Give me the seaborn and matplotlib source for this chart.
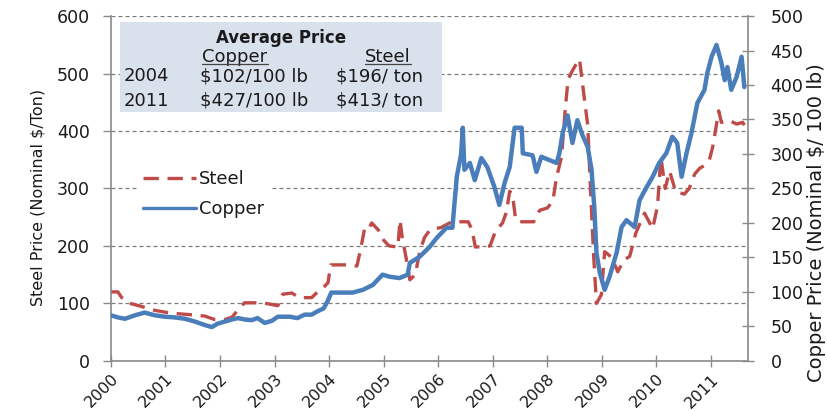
import matplotlib
matplotlib.use("Agg")
import matplotlib.pyplot as plt
import seaborn as sns
import pandas as pd
from matplotlib.patches import Rectangle
from matplotlib.lines import Line2D

# Copper spot price, nominal $ per 100 lb (right axis)
copper_year = [2000.00, 2000.13, 2000.26, 2000.44, 2000.62, 2000.81, 2000.99, 2001.17,
               2001.36, 2001.54, 2001.72, 2001.85, 2001.96, 2002.09, 2002.22, 2002.33,
               2002.45, 2002.58, 2002.69, 2002.82, 2002.95, 2003.06, 2003.28, 2003.42,
               2003.55, 2003.68, 2003.79, 2003.90, 2003.97, 2004.04, 2004.19, 2004.43,
               2004.62, 2004.80, 2004.98, 2005.11, 2005.29, 2005.44, 2005.48, 2005.66,
               2005.84, 2005.97, 2006.15, 2006.26, 2006.34, 2006.42, 2006.45, 2006.48,
               2006.58, 2006.67, 2006.79, 2006.90, 2007.03, 2007.12, 2007.22, 2007.31,
               2007.40, 2007.53, 2007.55, 2007.73, 2007.80, 2007.89, 2008.04, 2008.17,
               2008.22, 2008.28, 2008.37, 2008.46, 2008.55, 2008.64, 2008.74, 2008.81,
               2008.86, 2008.90, 2008.96, 2009.05, 2009.14, 2009.27, 2009.36, 2009.45,
               2009.60, 2009.69, 2009.82, 2009.93, 2010.05, 2010.18, 2010.29, 2010.38,
               2010.46, 2010.55, 2010.64, 2010.75, 2010.88, 2010.93, 2011.01, 2011.10,
               2011.19, 2011.25, 2011.30, 2011.37, 2011.47, 2011.56, 2011.61]
copper_price = [66, 63, 61, 66, 70, 66, 64, 63,
                61, 57, 52, 49, 54, 57, 60, 62,
                60, 59, 62, 55, 58, 64, 64, 62,
                67, 67, 72, 76, 86, 99, 99, 99,
                103, 110, 125, 122, 120, 125, 142, 151,
                165, 178, 193, 193, 267, 300, 338, 277,
                287, 262, 294, 281, 252, 226, 259, 281,
                338, 338, 301, 298, 274, 296, 291, 287,
                301, 330, 356, 316, 349, 328, 310, 277,
                223, 157, 128, 103, 122, 157, 194, 204,
                194, 233, 252, 267, 287, 301, 325, 316,
                267, 301, 330, 374, 393, 417, 441, 458,
                432, 407, 426, 393, 412, 441, 397]

# Steel price, nominal $ per ton (left axis)
steel_year = [2000.00, 2000.13, 2000.20, 2000.35, 2000.55, 2000.80, 2001.10, 2001.50,
              2001.72, 2001.90, 2002.09, 2002.22, 2002.36, 2002.45, 2002.77, 2002.90,
              2003.06, 2003.15, 2003.32, 2003.45, 2003.68, 2003.79, 2003.90, 2003.98,
              2004.03, 2004.29, 2004.51, 2004.58, 2004.65, 2004.72, 2004.78, 2004.90,
              2005.00, 2005.10, 2005.26, 2005.30, 2005.34, 2005.41, 2005.48, 2005.58,
              2005.66, 2005.75, 2005.85, 2006.05, 2006.25, 2006.55, 2006.62, 2006.68,
              2006.95, 2007.05, 2007.18, 2007.25, 2007.31, 2007.36, 2007.42, 2007.53,
              2007.75, 2007.86, 2008.00, 2008.10, 2008.17, 2008.26, 2008.33, 2008.38,
              2008.46, 2008.52, 2008.59, 2008.64, 2008.70, 2008.74, 2008.79, 2008.85,
              2008.90, 2008.99, 2009.05, 2009.18, 2009.29, 2009.40, 2009.51, 2009.62,
              2009.78, 2009.93, 2010.02, 2010.08, 2010.16, 2010.24, 2010.35, 2010.51,
              2010.60, 2010.70, 2010.79, 2010.88, 2010.97, 2011.03, 2011.08, 2011.14,
              2011.19, 2011.34, 2011.47, 2011.58, 2011.61]
steel_price = [120, 120, 110, 100, 95, 88, 83, 80,
               78, 72, 72, 76, 92, 101, 101, 99,
               96, 116, 118, 110, 110, 120, 128, 136,
               167, 167, 165, 195, 230, 228, 240, 228,
               210, 200, 198, 245, 215, 180, 141, 150,
               190, 215, 228, 232, 242, 242, 228, 198,
               200, 226, 240, 259, 295, 290, 245, 242,
               242, 262, 266, 278, 320, 355, 440, 490,
               505, 515, 525, 485, 440, 410, 300, 180,
               100, 115, 190, 180, 155, 175, 182, 222,
               257, 230, 270, 355, 300, 330, 295, 290,
               300, 325, 335, 340, 350, 372, 400, 435,
               415, 418, 412, 415, 410]

year_ticks = list(range(2000, 2012))
steel_ticks = [0, 100, 200, 300, 400, 500, 600]
copper_ticks = [0, 50, 100, 150, 200, 250, 300, 350, 400, 450, 500]

# Average-price inset table
avg_years = ["2004", "2011"]
avg_copper = ["$102/100 lb", "$427/100 lb"]
avg_steel = ["$196/ ton", "$413/ ton"]

sns.set_theme(style="white")
plt.rcParams["font.family"] = ["DejaVu Sans"]

STEEL_RED = "#be4b48"
COPPER_BLUE = "#4a7ebb"
AXIS_GRAY = "#8a8a8a"
TEXT = "#1a1a1a"
STEEL_DASH = (0, (4.6, 2.6))

fig = plt.figure(figsize=(8.27, 4.11), dpi=100)
ax = fig.add_axes([0.134, 0.122, 0.770, 0.839])
ax2 = ax.twinx()

steel_df = pd.DataFrame({"year": steel_year, "price": steel_price})
copper_df = pd.DataFrame({"year": copper_year, "price": copper_price})

sns.lineplot(data=steel_df, x="year", y="price", ax=ax, color=STEEL_RED,
             linewidth=2.4, linestyle=STEEL_DASH, estimator=None, sort=False)
sns.lineplot(data=copper_df, x="year", y="price", ax=ax2, color=COPPER_BLUE,
             linewidth=3.2, estimator=None, sort=False)

ax.set_xlim(2000, 2011.67)
ax.set_ylim(0, 600)
ax2.set_ylim(0, 500)
ax.set_xticks(year_ticks)
ax.set_xticklabels([str(y) for y in year_ticks], rotation=45, ha="right",
                   va="top", rotation_mode="anchor")
ax.set_yticks(steel_ticks)
ax2.set_yticks(copper_ticks)
ax.set_xlabel("")

# dashed horizontal grid tied to the steel scale
ax.set_axisbelow(True)
ax.yaxis.grid(True, linestyle=(0, (3.2, 2.4)), color="#7a7a7a", linewidth=0.9)
ax.xaxis.grid(False)

for a in (ax, ax2):
    for s in a.spines.values():
        s.set_visible(False)
for side in ("left", "bottom"):
    ax.spines[side].set_visible(True)
    ax.spines[side].set_color(AXIS_GRAY)
    ax.spines[side].set_linewidth(1.2)
ax2.spines["right"].set_visible(True)
ax2.spines["right"].set_color(AXIS_GRAY)
ax2.spines["right"].set_linewidth(1.2)

ax.tick_params(axis="y", left=True, direction="out", length=6, width=1,
               color=AXIS_GRAY, labelsize=12.5, labelcolor=TEXT, pad=9)
ax.tick_params(axis="x", bottom=True, direction="inout", length=9, width=1,
               color=AXIS_GRAY, labelsize=11.5, labelcolor=TEXT, pad=3)
ax2.tick_params(axis="y", right=True, direction="inout", length=9, width=1,
                color=AXIS_GRAY, labelsize=12.5, labelcolor=TEXT, pad=12)

ax.set_ylabel("Steel Price (Nominal $/Ton)", fontsize=11.5, color=TEXT)
ax.yaxis.set_label_coords(-0.102, 0.475)
ax2.set_ylabel("Copper Price (Nominal $/ 100 lb)", fontsize=14, color=TEXT)
ax2.yaxis.set_label_coords(1.094, 0.40)

# inset summary box
ax.add_patch(Rectangle((0.014, 0.722), 0.506, 0.261, transform=ax.transAxes,
                       facecolor="#d9e1ec", edgecolor="none", zorder=1))
ax.text(0.268, 0.937, "Average Price", transform=ax.transAxes, ha="center",
        va="center", fontsize=12, fontweight="bold", color=TEXT, zorder=3)
headers = []
for label, xc in (("Copper", 0.195), ("Steel", 0.435)):
    headers.append(ax.text(xc, 0.880, label, transform=ax.transAxes, ha="center",
                           va="center", fontsize=13, color=TEXT, zorder=3))
for row, yc in enumerate((0.826, 0.754)):
    ax.text(0.020, yc, avg_years[row], transform=ax.transAxes, ha="left",
            va="center", fontsize=13, color=TEXT, zorder=3)
    ax.text(0.140, yc, avg_copper[row], transform=ax.transAxes, ha="left",
            va="center", fontsize=13, color=TEXT, zorder=3)
    ax.text(0.353, yc, avg_steel[row], transform=ax.transAxes, ha="left",
            va="center", fontsize=13, color=TEXT, zorder=3)

# underline the column headers
fig.canvas.draw()
renderer = fig.canvas.get_renderer()
inv = ax.transAxes.inverted()
for t in headers:
    bb = t.get_window_extent(renderer)
    (x0, y0), (x1, _) = inv.transform([(bb.x0, bb.y0 + 2), (bb.x1, bb.y0 + 2)])
    ax.add_line(Line2D([x0, x1], [y0, y0], transform=ax.transAxes,
                       color="#444444", linewidth=0.9, zorder=3))

handles = [Line2D([], [], color=STEEL_RED, linewidth=2.4, linestyle=STEEL_DASH),
           Line2D([], [], color=COPPER_BLUE, linewidth=2.4)]
leg = ax2.legend(handles, ["Steel", "Copper"], loc="upper left",
                 bbox_to_anchor=(0.041, 0.572), frameon=True, fancybox=False,
                 facecolor="white", edgecolor="none", framealpha=1,
                 fontsize=13, handlelength=2.9, handletextpad=0.2,
                 labelspacing=0.68, borderpad=0.35, borderaxespad=0)
for txt in leg.get_texts():
    txt.set_color(TEXT)

fig.savefig("out.png", dpi=100)
